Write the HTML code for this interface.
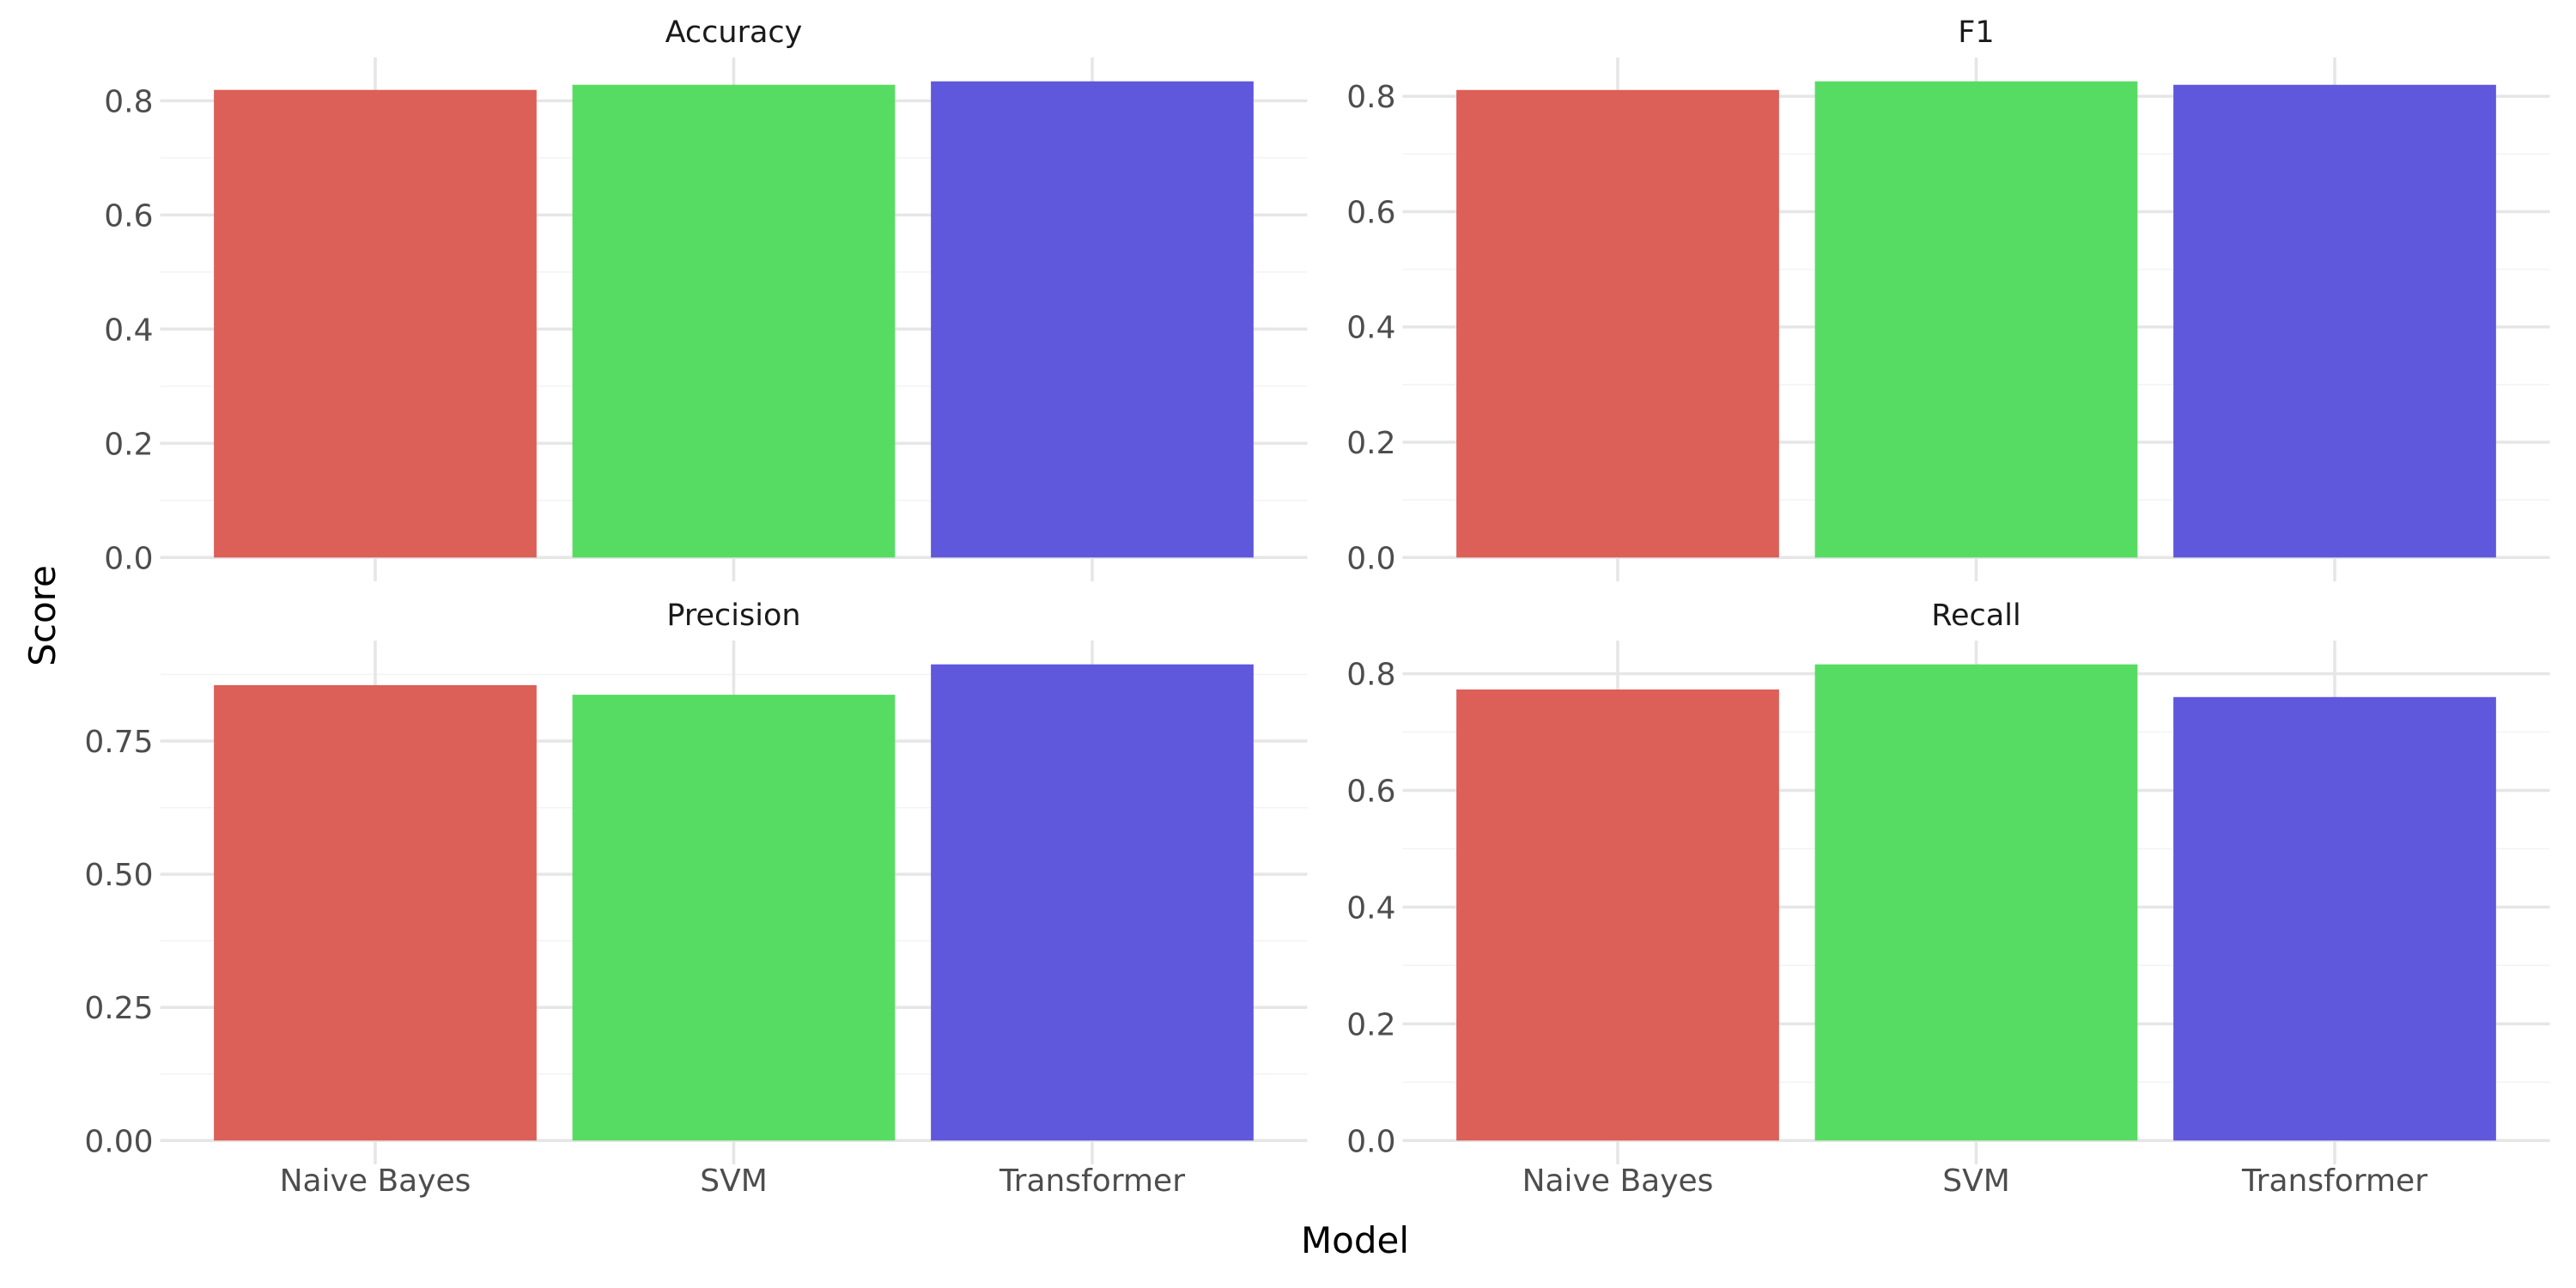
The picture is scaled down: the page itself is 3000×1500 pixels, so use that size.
<!DOCTYPE html>
<html><head><meta charset="utf-8"><style>
html,body{margin:0;padding:0;background:#fff;}
svg{display:block;font-family:"DejaVu Sans","Liberation Sans",sans-serif;}
</style></head>
<body>
<svg id="chart" width="3000" height="1500" viewBox="0 0 3000 1500" xmlns="http://www.w3.org/2000/svg">
<text x="0" y="0" transform="translate(64,717) rotate(-90)" text-anchor="middle" font-size="42" fill="#000">Score</text>
<text x="1578" y="1459" text-anchor="middle" font-size="42" fill="#000">Model</text>
</svg>
<script>
const categories = ["Naive Bayes", "SVM", "Transformer"];
const colors = ["#DC5F58", "#57DC63", "#5F58DC"];
const metrics = ["Accuracy", "F1", "Precision", "Recall"];
const accuracyValues = [0.819, 0.828, 0.834];
const f1Values = [0.811, 0.826, 0.820];
const precisionValues = [0.855, 0.837, 0.894];
const recallValues = [0.773, 0.816, 0.760];
const accuracyTicks = [0, 0.2, 0.4, 0.6, 0.8];
const f1Ticks = [0, 0.2, 0.4, 0.6, 0.8];
const precisionTicks = [0, 0.25, 0.5, 0.75];
const recallTicks = [0, 0.2, 0.4, 0.6, 0.8];
const accuracyTickLabels = ["0.0", "0.2", "0.4", "0.6", "0.8"];
const f1TickLabels = ["0.0", "0.2", "0.4", "0.6", "0.8"];
const precisionTickLabels = ["0.00", "0.25", "0.50", "0.75"];
const recallTickLabels = ["0.0", "0.2", "0.4", "0.6", "0.8"];

const NS = "http://www.w3.org/2000/svg";
const svg = document.getElementById("chart");
function mk(tag, attrs, parent) {
  const e = document.createElementNS(NS, tag);
  for (const k in attrs) e.setAttribute(k, attrs[k]);
  (parent || svg).appendChild(e);
  return e;
}
const panels = [
  {vals: accuracyValues, ticks: accuracyTicks, labels: accuracyTickLabels, x0: 186.5, x1: 1522.5, y0: 67, y1: 677, showX: false},
  {vals: f1Values, ticks: f1Ticks, labels: f1TickLabels, x0: 1633.5, x1: 2969.5, y0: 67, y1: 677, showX: false},
  {vals: precisionValues, ticks: precisionTicks, labels: precisionTickLabels, x0: 186.5, x1: 1522.5, y0: 746, y1: 1356, showX: true},
  {vals: recallValues, ticks: recallTicks, labels: recallTickLabels, x0: 1633.5, x1: 2969.5, y0: 746, y1: 1356, showX: true}
];
panels.forEach((p, pi) => {
  const g = mk("g", {});
  
  
  const M = Math.max(...p.vals);
  const lo = -0.05 * M, hi = 1.05 * M;
  const y = v => p.y1 - (v - lo) / (hi - lo) * (p.y1 - p.y0);
  const step = (p.x1 - p.x0) / 3.2;
  const x = i => p.x0 + (0.6 + i) * step;
  for (let i = 0; i < p.ticks.length; i++) {
    const d = p.ticks.length > 1 ? p.ticks[1] - p.ticks[0] : 0.2;
    const mv = p.ticks[i] + d / 2;
    if (mv <= hi) {
      const l = mk("line", {x1: p.x0, x2: p.x1, y1: y(mv), y2: y(mv), stroke: "#f3f3f3", "stroke-width": 1.5}, g);
      
      
    }
  }
  p.ticks.forEach((t, i) => {
    const l = mk("line", {x1: p.x0, x2: p.x1, y1: y(t), y2: y(t), stroke: "#e6e6e6", "stroke-width": 3.5}, g);
    
    
    const tx = mk("text", {x: p.x0 - 8, y: y(t) + 13, "text-anchor": "end", "font-size": 36, fill: "#4d4d4d"}, g);
    tx.textContent = p.labels[i];
    
    
  });
  categories.forEach((c, i) => {
    const l = mk("line", {x1: x(i), x2: x(i), y1: p.y0, y2: p.y1, stroke: "#e6e6e6", "stroke-width": 3.5}, g);
    
    
  });
  categories.forEach((c, i) => {
    const w = 0.9 * step;
    const r = mk("rect", {x: x(i) - w / 2, y: y(p.vals[i]), width: w, height: y(0) - y(p.vals[i]), fill: colors[i]}, g);
    
    
    if (p.showX) {
      const tx = mk("text", {x: x(i), y: p.y1 + 31, "text-anchor": "middle", "font-size": 36, fill: "#4d4d4d"}, g);
      tx.textContent = c;
      
      
    }
  });
  const st = mk("text", {x: (p.x0 + p.x1) / 2, y: p.y0 - 18, "text-anchor": "middle", "font-size": 35, fill: "#1a1a1a"}, g);
  st.textContent = metrics[pi];
  
  
});
</script>
</body></html>
